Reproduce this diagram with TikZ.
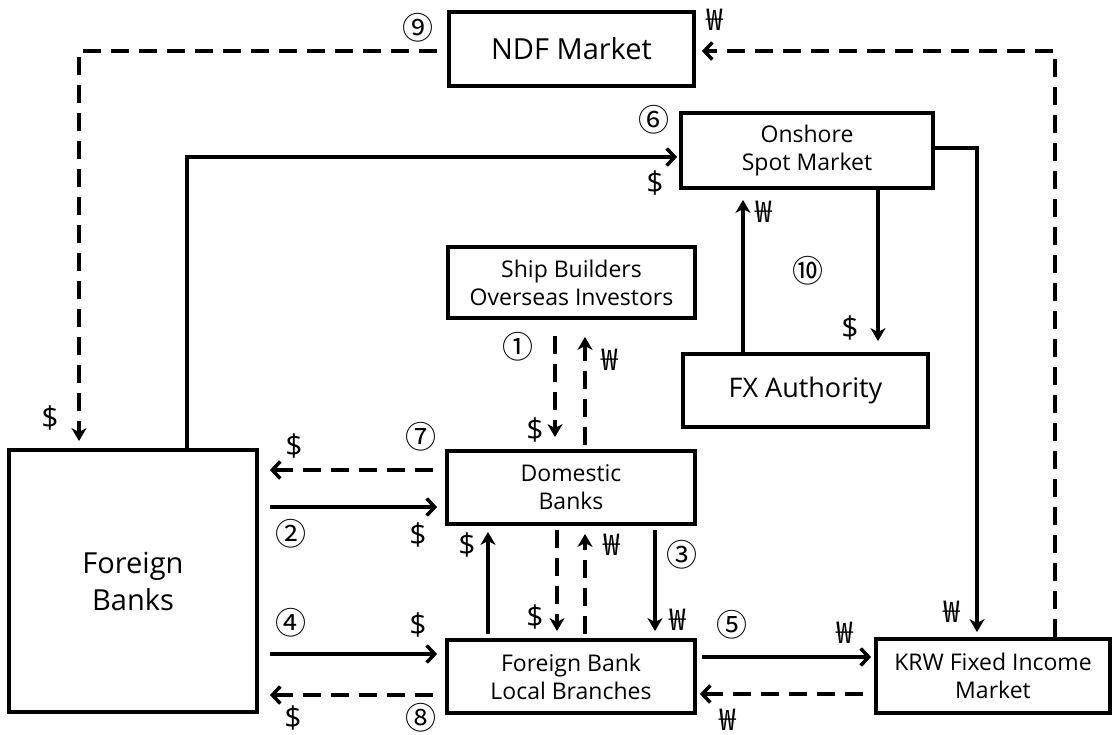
\documentclass[tikz,border=0pt]{standalone}
\usepackage{fontspec}
\setmainfont{Open Sans}
\newfontfamily\cjk{Noto Sans CJK KR}
\usetikzlibrary{arrows.meta}
\begin{document}
\begin{tikzpicture}[x=1pt,y=-1pt,
  box/.style={draw, line width=3.8pt, inner sep=0pt, align=center},
  big/.style={font=\fontsize{29}{37}\selectfont},
  fxf/.style={font=\fontsize{27}{34}\selectfont},
  med/.style={font=\fontsize{23}{28}\selectfont},
  sym/.style={inner sep=0pt, font=\fontsize{30}{30}\selectfont},
  won/.style={inner sep=0pt, font=\cjk\fontsize{30}{30}\selectfont},
  num/.style={inner sep=0pt, font=\cjk\fontsize{31}{31}\selectfont},
  flow/.style={line width=3.5pt},
  dflow/.style={line width=3.5pt, dash pattern=on 18pt off 10pt},
  hs/.style={-{Straight Barb[length=8pt,width=17pt]}},
  vs/.style={-{Stealth[length=13pt,width=15pt,inset=4pt]}},
]
\useasboundingbox (0,0) rectangle (1116,734);
\fill[white] (0,0) rectangle (1116,734);

\node[box,big,minimum width=245pt,minimum height=74pt] (ndf) at (571.5,49) {NDF Market};
\node[box,med,minimum width=252pt,minimum height=75pt] (spot) at (807,150.5) {Onshore\\Spot Market};
\node[box,med,minimum width=247pt,minimum height=71pt] (ship) at (571.5,282.5) {Ship Builders\\Overseas Investors};
\node[box,fxf,minimum width=245pt,minimum height=73pt] (fx) at (805.5,390.5) {FX Authority};
\node[box,med,minimum width=248pt,minimum height=73pt] (dom) at (571,487.5) {Domestic\\Banks};
\node[box,med,minimum width=248pt,minimum height=73pt] (fblb) at (571,676.5) {Foreign Bank\\Local Branches};
\node[box,big,minimum width=248pt,minimum height=262pt] (fb) at (133,581) {Foreign\\Banks};
\node[box,med,minimum width=234pt,minimum height=74pt] (krw) at (993,676) {KRW Fixed Income\\Market};

\coordinate (xA) at (79,0);
\coordinate (xB) at (187,0);
\coordinate (xC) at (977,0);
\coordinate (xD) at (1055,0);
\coordinate (xE) at (878,0);
\coordinate (xF) at (743,0);
\coordinate (xG) at (555,0);
\coordinate (xH) at (585,0);
\coordinate (xI) at (488,0);
\coordinate (xJ) at (557,0);
\coordinate (xK) at (585,0);
\coordinate (xL) at (655,0);
\coordinate (yA) at (0,51);
\coordinate (yB) at (0,157);
\coordinate (yC) at (0,148);
\coordinate (y7) at (0,470);
\coordinate (y2) at (0,507);
\coordinate (y4) at (0,654);
\coordinate (y8) at (0,695);
\coordinate (y5) at (0,657);
\coordinate (yK) at (0,694);

\draw[dflow,vs,shorten <=10pt,shorten >=7pt] (ndf.west |- yA) -| (fb.north -| xA);
\draw[dflow,hs,shorten >=6pt] (krw.north -| xD) |- (ndf.east |- yA);
\draw[flow,hs,shorten >=2pt] (fb.north -| xB) |- (spot.west |- yB);
\draw[flow,vs,shorten >=5pt] (spot.east |- yC) -| (krw.north -| xC);
\draw[flow,vs,shorten >=11pt] (spot.south -| xE) -- (fx.north -| xE);
\draw[flow,vs,shorten >=10pt] (fx.north -| xF) -- (spot.south -| xF);
\draw[dflow,vs,shorten <=16pt,shorten >=12pt] (ship.south -| xG) -- (dom.north -| xG);
\draw[dflow,vs,shorten <=4pt,shorten >=17pt] (dom.north -| xH) -- (ship.south -| xH);
\draw[flow,vs,shorten <=4pt,shorten >=6pt] (fblb.north -| xI) -- (dom.south -| xI);
\draw[dflow,vs,shorten <=4pt,shorten >=7pt] (dom.south -| xJ) -- (fblb.north -| xJ);
\draw[dflow,vs,shorten <=4pt,shorten >=8pt] (fblb.north -| xK) -- (dom.south -| xK);
\draw[flow,vs,shorten <=4pt,shorten >=7pt] (dom.south -| xL) -- (fblb.north -| xL);
\draw[dflow,hs,shorten <=12pt,shorten >=11pt] (dom.west |- y7) -- (fb.east |- y7);
\draw[flow,hs,shorten <=11pt,shorten >=8pt] (fb.east |- y2) -- (dom.west |- y2);
\draw[flow,hs,shorten <=11pt,shorten >=8pt] (fb.east |- y4) -- (fblb.west |- y4);
\draw[dflow,hs,shorten <=12pt,shorten >=11pt] (fblb.west |- y8) -- (fb.east |- y8);
\draw[flow,hs,shorten <=5pt,shorten >=3pt] (fblb.east |- y5) -- (krw.west |- y5);
\draw[dflow,hs,shorten <=11pt,shorten >=3pt] (krw.west |- yK) -- (fblb.east |- yK);

\node[num] (n9) at (418,28) {⑨};
\node[won] (w9) at (715,20) {₩};
\node[num] (n6) at (654,120) {⑥};
\node[sym] (d6) at (655,183) {\$};
\node[won] (w10) at (764,212) {₩};
\node[num] (n10) at (808,271) {⑩};
\node[sym] (d10) at (850,328) {\$};
\node[num] (n1) at (518,347) {①};
\node[won] (w1) at (610,360) {₩};
\node[sym] (d1) at (535,430) {\$};
\node[sym] (d9) at (50,418) {\$};
\node[num] (n7) at (421,437) {⑦};
\node[sym] (d7) at (294,446) {\$};
\node[num] (n2) at (291,534) {②};
\node[sym] (d2) at (418,535) {\$};
\node[num] (n4) at (291,623) {④};
\node[sym] (d4) at (418,625) {\$};
\node[num] (n8) at (421,718) {⑧};
\node[sym] (d8) at (293,718) {\$};
\node[sym] (da) at (467,545) {\$};
\node[won] (wa) at (612,545) {₩};
\node[sym] (db) at (535,617) {\$};
\node[won] (wb) at (678,620) {₩};
\node[num] (n3) at (682,555) {③};
\node[num] (n5) at (732,625) {⑤};
\node[won] (w5) at (845,633) {₩};
\node[won] (wk) at (728,720) {₩};
\node[won] (wc) at (952,612) {₩};
\end{tikzpicture}
\end{document}
